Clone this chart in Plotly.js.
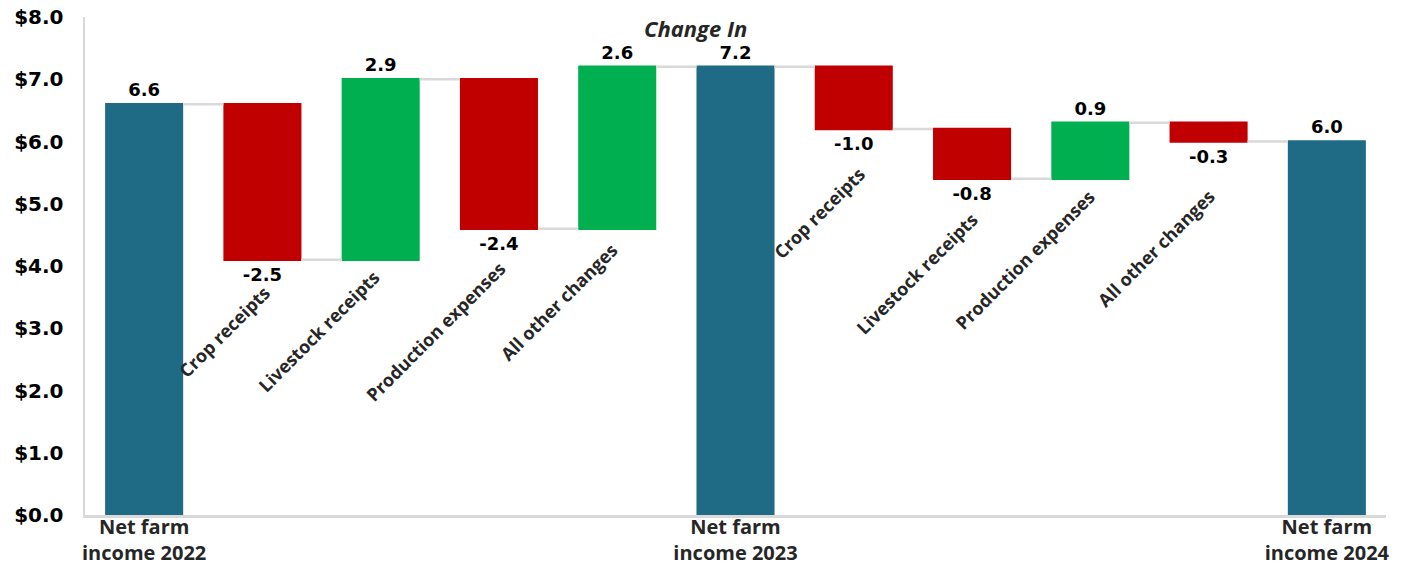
<!DOCTYPE html>
<html>
<head>
<meta charset="utf-8">
<script src="https://cdn.plot.ly/plotly-3.0.1.min.js"></script>
<style>html,body{margin:0;padding:0;background:#fff;}#chart{width:1408px;height:565px;}</style>
</head>
<body>
<div id="chart"></div>
<script>
// ---- data ----
const categories = ['Net farm income 2022', 'Crop receipts', 'Livestock receipts', 'Production expenses', 'All other changes',
  'Net farm income 2023', 'Crop receipts', 'Livestock receipts', 'Production expenses', 'All other changes', 'Net farm income 2024'];
const values = [6.6, -2.5, 2.9, -2.4, 2.6, 7.2, -1.0, -0.8, 0.9, -0.3, 6.0];
const measures = ['absolute', 'relative', 'relative', 'relative', 'relative', 'total',
  'relative', 'relative', 'relative', 'relative', 'total'];
const totalTickLabels = ['Net farm<br>income 2022', 'Net farm<br>income 2023', 'Net farm<br>income 2024'];
const yTicks = [0, 1, 2, 3, 4, 5, 6, 7, 8];
const yTickLabels = ['$0.0', '$1.0', '$2.0', '$3.0', '$4.0', '$5.0', '$6.0', '$7.0', '$8.0'];

// ---- derived ----
const xIdx = categories.map((c, i) => i);
const totalIdx = measures.map((m, i) => m !== 'relative' ? i : -1).filter(i => i >= 0);
const labelText = values.map(v => v.toFixed(1));

// bottoms of relative bars computed from the data
let run = 0;
const bottoms = [];
values.forEach((v, i) => {
  if (measures[i] === 'absolute') { run = v; bottoms.push(0); }
  else if (measures[i] === 'total') { bottoms.push(0); }
  else { const start = run; run = run + v; bottoms.push(Math.min(start, run)); }
});

// pixel offsets for the slanted category labels (layout only)
const slantShiftY = [0, -19, -3, -25, -7, 0, -31, -26, -3, -40, 0];
const slantShiftX = [0, 15, 7, 15, 8, 0, 19, 14, 12, 14, 0];

const slantAnnotations = [];
xIdx.forEach(i => {
  if (measures[i] !== 'relative') return;
  slantAnnotations.push({
    x: i, y: bottoms[i], xref: 'x', yref: 'y',
    text: categories[i], showarrow: false, textangle: -45,
    xanchor: 'right', yanchor: 'top',
    xshift: slantShiftX[i], yshift: slantShiftY[i],
    font: {family: 'Open Sans', size: 18, color: '#262626', weight: 700}
  });
});

const trace = {
  type: 'waterfall',
  x: xIdx,
  y: values,
  measure: measures,
  text: labelText,
  textposition: 'outside',
  textfont: {family: 'DejaVu Sans', size: 18, color: '#000000', weight: 700},
  cliponaxis: false,
  increasing: {marker: {color: '#00b050'}},
  decreasing: {marker: {color: '#c00000'}},
  totals: {marker: {color: '#1f6b85'}},
  connector: {mode: 'between', line: {color: '#d9d9d9', width: 2.5}},
  hoverinfo: 'none'
};

const layout = {
  width: 1408, height: 565,
  margin: {l: 85, r: 22, t: 17, b: 50},
  paper_bgcolor: '#ffffff', plot_bgcolor: '#ffffff',
  showlegend: false,
  waterfallgap: 0.34,
  xaxis: {
    range: [-0.5, categories.length - 0.5],
    tickmode: 'array', tickvals: totalIdx, ticktext: totalTickLabels,
    tickfont: {family: 'Open Sans', size: 20, color: '#262626', weight: 700},
    showgrid: false, zeroline: false,
    showline: true, linecolor: '#d9d9d9', linewidth: 2.5,
    ticks: '', ticklabelstandoff: -8
  },
  yaxis: {
    range: [0, 8], tickmode: 'array', tickvals: yTicks, ticktext: yTickLabels,
    tickfont: {family: 'DejaVu Sans', size: 20, color: '#000000', weight: 700},
    showgrid: false, zeroline: false,
    showline: true, linecolor: '#d9d9d9', linewidth: 2.5,
    ticks: '', ticklabelstandoff: 15
  },
  annotations: [
    {text: 'Change In', xref: 'paper', yref: 'paper', x: 0.469, y: 0.978,
     xanchor: 'center', yanchor: 'middle', showarrow: false,
     font: {family: 'Open Sans', size: 22, color: '#262626', weight: 700, style: 'italic'}}
  ].concat(slantAnnotations)
};

Plotly.newPlot('chart', [trace], layout, {displayModeBar: false, staticPlot: true});
</script>
</body>
</html>
